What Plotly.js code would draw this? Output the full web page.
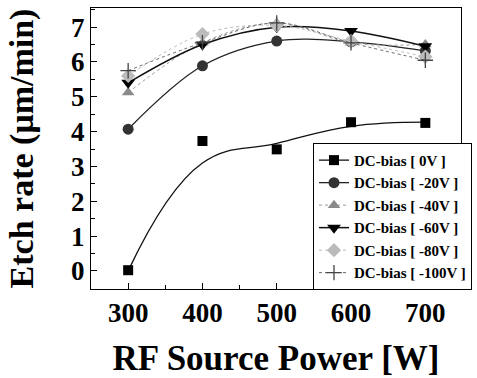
<!DOCTYPE html>
<html>
<head>
<meta charset="utf-8">
<script src="https://cdn.plot.ly/plotly-3.0.1.min.js"></script>
<style>html,body{margin:0;padding:0;background:#fff;}#chart{width:477px;height:378px;}</style>
</head>
<body>
<div id="chart"></div>
<script>
const power = [300, 400, 500, 600, 700];
const bias0 = [0.02, 3.73, 3.49, 4.27, 4.25];
const bias0Fit = [0.0, 3.1, 3.66, 4.15, 4.27];
const bias20 = [4.07, 5.89, 6.6, 6.58, 6.32];
const bias40 = [5.12, 6.55, 7.12, 6.55, 6.5];
const bias60 = [5.4, 6.5, 7.0, 6.89, 6.45];
const bias80 = [5.6, 6.8, 7.05, 6.6, 6.15];
const bias100 = [5.75, 6.55, 7.12, 6.55, 6.05];
const legendNames = ['DC-bias [ 0V ]', 'DC-bias [ -20V ]', 'DC-bias [ -40V ]', 'DC-bias [ -60V ]', 'DC-bias [ -80V ]', 'DC-bias [ -100V ]'];

const sp = {shape: 'spline', smoothing: 1.0};
const traces = [
  {x: power, y: bias0Fit, mode: 'lines', line: {color: '#111', width: 1.3, shape: 'spline', smoothing: 1.2}, showlegend: false, hoverinfo: 'skip'},
  {x: power, y: bias0, mode: 'markers', showlegend: false, marker: {symbol: 'square', size: 10, color: '#000'}},
  {x: [null], y: [null], mode: 'lines+markers', name: legendNames[0], marker: {symbol: 'square', size: 10, color: '#000'}, line: {color: '#111', width: 1.3}},
  {x: power, y: bias20, mode: 'lines+markers', name: legendNames[1], marker: {symbol: 'circle', size: 11, color: '#333'}, line: Object.assign({color: '#222', width: 1.3}, sp)},
  {x: power, y: bias40, mode: 'lines+markers', name: legendNames[2], marker: {symbol: 'triangle-up', size: 11, color: '#8a8a8a'}, line: Object.assign({color: '#999', width: 1, dash: 'dot'}, sp)},
  {x: power, y: bias60, mode: 'lines+markers', name: legendNames[3], marker: {symbol: 'triangle-down', size: 12, color: '#000'}, line: Object.assign({color: '#111', width: 1.5}, sp)},
  {x: power, y: bias80, mode: 'lines+markers', name: legendNames[4], marker: {symbol: 'diamond', size: 11, color: '#bbb'}, line: Object.assign({color: '#bbb', width: 1, dash: 'dot'}, sp)},
  {x: power, y: bias100, mode: 'lines+markers', name: legendNames[5], marker: {symbol: 'cross-thin', size: 11, color: '#444', line: {color: '#444', width: 1.3}}, line: Object.assign({color: '#666', width: 1, dash: 'dot'}, sp)}
];

const serif = 'Liberation Serif, Times New Roman, serif';
const layout = {
  width: 477, height: 378,
  margin: {l: 91, r: 16, t: 8, b: 89, autoexpand: false},
  paper_bgcolor: '#fff', plot_bgcolor: '#fff',
  showlegend: true,
  xaxis: {
    range: [250, 748], tickvals: power, ticktext: ['300', '400', '500', '600', '700'],
    ticks: 'inside', ticklen: 6, tickwidth: 1, tickcolor: '#000',
    minor: {dtick: 50, tick0: 250, ticks: 'inside', ticklen: 4, tickcolor: '#000'},
    showline: true, linecolor: '#000', linewidth: 1, mirror: true, showgrid: false, zeroline: false,
    automargin: false,
    tickfont: {family: serif, size: 27, weight: 'bold', color: '#000'},
    title: {text: 'RF Source Power [W]', font: {family: serif, size: 35, weight: 'bold', color: '#000'}, standoff: 22}
  },
  yaxis: {
    range: [-0.52, 7.55], tickvals: [0, 1, 2, 3, 4, 5, 6, 7],
    ticks: 'inside', ticklen: 6, tickwidth: 1, tickcolor: '#000',
    minor: {dtick: 0.5, tick0: 0, ticks: 'inside', ticklen: 4, tickcolor: '#000'},
    showline: true, linecolor: '#000', linewidth: 1, mirror: true, showgrid: false, zeroline: false,
    automargin: false,
    tickfont: {family: serif, size: 27, weight: 'bold', color: '#000'},
    title: {text: 'Etch rate (μm/min)', font: {family: serif, size: 34, weight: 'bold', color: '#000'}, standoff: 27}
  },
  legend: {
    x: 0.6, y: 0.52, xanchor: 'left', yanchor: 'top',
    bgcolor: '#fff', bordercolor: '#000', borderwidth: 1,
    font: {family: serif, size: 15, weight: 'bold', color: '#000'},
    tracegroupgap: 0, itemwidth: 30
  }
};

Plotly.newPlot('chart', traces, layout, {displayModeBar: false, staticPlot: true});
</script>
</body>
</html>
